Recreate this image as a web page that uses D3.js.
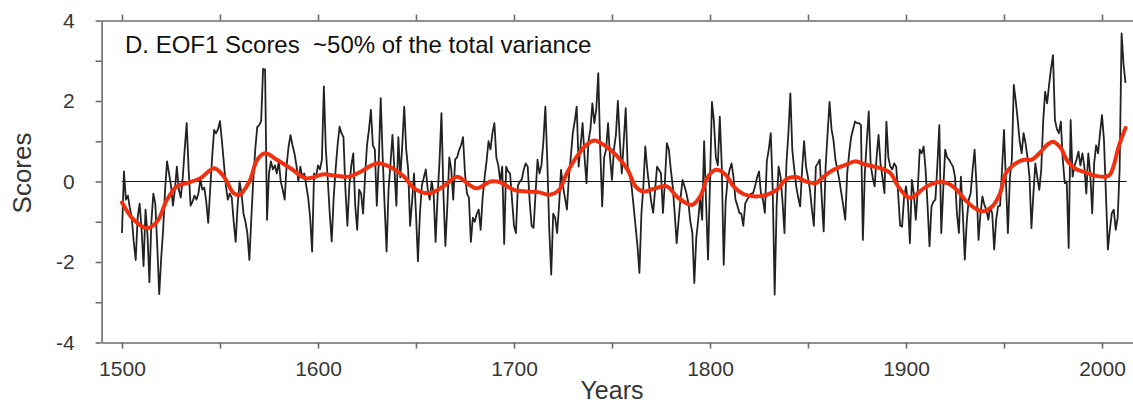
<!DOCTYPE html>
<html>
<head>
<meta charset="utf-8">
<script src="https://cdn.jsdelivr.net/npm/d3@7"></script>
<style>
  body { margin: 0; background: #fff; }
  text { font-family: "Liberation Sans", Arial, Helvetica, sans-serif; }
</style>
</head>
<body>
<div id="chart"></div>
<script>
/* annual EOF1 scores, 1500-2012 */
const years = d3.range(1500, 2013);
const scores = [
  -1.28, 0.25, -0.45, -0.35, -0.65, -0.9, -1.5, -1.95, -0.9, -0.55,
  -1.2, -2.1, -0.7, -1.3, -2.5, -1.0, -0.3, -0.55, -1.6, -2.8,
  -1.9, -1.2, -0.2, 0.5, 0.2, -0.1, -0.6, -0.2, 0.37, -0.2,
  -0.4, 0.1, 0.8, 1.45, 0.3, -0.6, -0.5, -0.35, -0.45, -0.3,
  0.05, -0.2, -0.15, -0.5, -1.03, -0.2, 0.6, 1.28, 1.2, 1.3,
  1.5, 1.0, 0.45, -0.1, -0.45, -0.3, -0.4, -1.0, -1.5, -0.6,
  0.0, -0.3, -0.8, -1.0, -1.3, -1.95, -0.9, 0.05, 0.8, 1.35,
  1.4, 1.5, 2.8, 2.78, -0.95, 0.2, 0.5, 0.3, 0.4, 0.2,
  0.5, 0.0, -0.2, -0.45, 0.4, 0.87, 1.15, 0.9, 0.7, 0.4,
  0.0, 0.37, 0.1, 0.2, -0.1, -0.4, -0.9, -1.74, 0.2, 0.1,
  0.4, 0.3, 0.54, 2.36, 0.8, 0.05, -0.8, -1.49, -0.4, 0.3,
  0.9, 1.36, 1.2, 1.1, -0.2, -1.1, -0.1, 0.4, 0.7, -0.6,
  -1.2, -0.2, -0.3, -0.8, 0.1, 0.9, 1.28, 1.78, 0.9, 0.8,
  -0.6, 0.5, 2.07, 0.6, -0.6, -1.74, -0.2, 0.45, 1.16, 0.3,
  -0.6, 1.1, 0.1, 0.9, 1.86, 0.8, 0.3, -1.1, -0.5, 0.2,
  -0.8, -1.98, -0.8, -0.1, 0.1, 0.3, -0.2, -0.45, 0.0, -0.3,
  -1.5, -0.4, 0.5, 1.7, -0.3, -1.6, -0.6, 0.6, 0.3, -0.45,
  0.55, 0.6, 0.78, 0.9, 1.1, 0.2, -0.3, -0.4, -1.5, -0.9,
  -1.0, -0.8, -0.7, -1.2, -0.4, 0.1, 0.5, 1.0, 0.8, 1.2,
  1.45, 0.6, 0.4, 0.0, 0.37, -1.55, 0.37, 0.25, 0.2, -0.45,
  -1.1, -1.28, -0.1, 0.0, 0.05, 0.3, 0.45, 0.37, -0.5, -1.1,
  -1.15, -0.3, 0.54, 0.2, 0.4, 1.0, 1.86, 0.5, -1.2, -2.31,
  -0.8, -0.9, -1.28, -0.6, 0.29, -0.12, -0.4, -0.7, 0.1, 0.62,
  1.2, 1.5, 1.86, 0.37, 0.9, 1.45, 0.6, -0.04, 1.0, 1.3,
  1.94, 1.45, 1.8, 2.69, 0.8, -0.62, 0.6, 0.8, 1.45, 0.6,
  0.04, 0.8, 1.16, 2.0, 1.0, 0.2, 1.0, 1.82, 0.37, 0.2,
  -0.12, -0.6, -1.1, -1.6, -2.27, -0.8, -0.12, 0.87, 0.3, -0.12,
  -0.5, -0.78, -0.2, 0.37, 0.29, 0.2, -0.78, 0.0, 0.95, 0.8,
  0.3, -0.12, -0.8, -1.53, -0.95, -0.4, 0.04, -0.12, -0.3, -0.54,
  -1.0, -1.28, -2.52, -1.4, -0.95, -0.4, -0.95, 1.0, -0.5, -1.94,
  0.0, 1.98, 1.5, 0.6, 0.4, 1.61, 0.4, -2.07, -0.5, 0.04,
  0.29, 0.45, 0.1, -0.45, -0.6, -0.78, -0.8, -1.1, -0.54, -0.45,
  -0.37, -0.3, -0.29, -0.12, 0.1, 0.25, -0.3, -0.45, -0.78, 0.5,
  0.8, 1.2, -0.2, -2.81, -0.6, 0.37, 0.12, -0.5, -1.28, 0.45,
  1.2, 2.19, 0.78, 0.3, -0.12, -0.4, -0.62, 0.3, 1.0, 0.37,
  0.1, -0.2, -0.7, -1.1, 0.37, 0.45, 0.54, -0.4, -1.24, 0.37,
  1.2, 1.98, 1.3, 1.03, 0.54, 0.3, 0.04, -0.29, -0.6, -0.95,
  0.2, 0.7, 1.1, 1.3, 1.49, 1.45, 1.45, 1.4, -1.45, 0.21,
  1.0, 1.74, 0.4, 0.1, -0.12, 0.6, 1.16, 0.45, 0.1, -0.29,
  1.49, 0.6, 0.37, 0.3, 0.45, 0.37, -0.3, -1.1, -1.12, -0.4,
  -0.12, -0.5, -1.53, 0.04, -0.3, -0.95, -0.21, 0.79, 0.7, 0.87,
  0.29, -0.6, -1.61, -0.62, -0.5, -0.45, 0.4, 1.4, -1.28, -0.2,
  0.79, 0.6, 0.54, 0.45, 0.37, 0.12, -0.8, -1.28, 0.12, -0.8,
  -1.94, -1.0, -0.45, -0.29, 0.3, 0.79, -0.12, -1.45, -0.8, -0.37,
  -0.58, -0.7, -0.95, -0.62, -0.8, -1.69, -0.95, -0.62, -0.6, 0.29,
  1.28, 0.0, -1.28, 0.1, 0.54, 2.4, 2.0, 1.53, 1.0, 0.7,
  1.2, 0.95, 0.6, 0.12, -1.16, -0.3, 0.45, 0.1, -0.21, 0.29,
  1.5, 2.23, 1.94, 2.4, 2.81, 3.14, 1.53, 1.3, 1.2, 1.49,
  0.54, -0.04, 0.0, -1.65, 1.53, 0.12, 0.4, 0.54, 0.74, 0.4,
  0.7, 0.37, -0.3, 0.7, 0.2, -0.79, 0.45, 0.9, 0.7, 1.2,
  1.65, 1.03, -0.29, -1.69, -1.2, -0.79, -0.7, -1.2, -0.9, 0.3,
  3.68, 2.9, 2.45
];

/* smoothed curve (red), read at irregular years */
const smoothYears = [
  1500, 1506, 1513, 1518, 1523, 1528, 1533, 1540, 1547, 1552, 1557, 1560, 1565, 1569, 1573,
  1579, 1586, 1594, 1603, 1608, 1616, 1622, 1630, 1638, 1644, 1649, 1657, 1664, 1671, 1676,
  1681, 1688, 1693, 1700, 1707, 1713, 1718, 1723, 1727, 1732, 1737, 1741, 1747, 1752, 1758,
  1762, 1766, 1772, 1778, 1783, 1788, 1791, 1795, 1799, 1803, 1808, 1812, 1817, 1823, 1829,
  1834, 1839, 1844, 1849, 1854, 1858, 1863, 1870, 1874, 1880, 1887, 1892, 1896, 1901, 1904,
  1909, 1916, 1921, 1926, 1931, 1936, 1939, 1944, 1948, 1951, 1956, 1960, 1964, 1968, 1972,
  1975, 1979, 1982, 1986, 1992, 1997, 2002, 2004, 2006, 2008, 2010, 2012
];
const smoothScores = [
  -0.52, -0.95, -1.16, -0.99, -0.45, -0.12, -0.04, 0.08, 0.33, 0.12, -0.29, -0.33, 0.0, 0.54, 0.7,
  0.54, 0.33, 0.08, 0.18, 0.15, 0.12, 0.25, 0.45, 0.33, 0.12, -0.17, -0.29, -0.12, 0.12, -0.04,
  -0.17, 0.0, -0.02, -0.21, -0.25, -0.27, -0.33, -0.21, 0.21, 0.62, 0.91, 1.02, 0.87, 0.66, 0.29,
  -0.12, -0.25, -0.17, -0.12, -0.37, -0.54, -0.58, -0.37, 0.12, 0.29, 0.17, -0.12, -0.31, -0.37, -0.33,
  -0.21, 0.06, 0.11, 0.0, -0.04, 0.12, 0.29, 0.43, 0.5, 0.41, 0.33, 0.21, -0.12, -0.39, -0.37,
  -0.17, -0.02, -0.04, -0.21, -0.5, -0.69, -0.74, -0.62, -0.29, 0.21, 0.45, 0.54, 0.54, 0.7, 0.91,
  0.99, 0.83, 0.54, 0.33, 0.22, 0.14, 0.12, 0.17, 0.4, 0.78, 1.08, 1.33
];

/* tick values */
const xTickValues = d3.range(1500, 2001, 50);
const yTickValues = d3.range(-4, 5, 1);

const width = 1133;
const height = 406;

const x = d3.scaleLinear()
    .domain([1489.6, 2020])
    .range([101.6, 1141.2]);

const y = d3.scaleLinear()
    .domain([-4, 4])
    .range([342.5, 20.5]);

let svg = d3.select("#chart").append("svg")
    .attr("width", width)
    .attr("height", height)
    .style("background", "#fff");

const frameColor = "#6b6b6b";
const labelColor = "#363636";

/* axes: ticks on all sides, pointing out */
let bottomAxis = svg.append("g")
    .attr("transform", "translate(0," + y(-4) + ")")
    .call(d3.axisBottom(x)
        .tickValues(xTickValues)
        .tickFormat(d => d % 100 === 0 ? String(d) : "")
        .tickSize(6)
        .tickPadding(13)
        .tickSizeOuter(0));

let topAxis = svg.append("g")
    .attr("transform", "translate(0," + y(4) + ")")
    .call(d3.axisTop(x)
        .tickValues(xTickValues)
        .tickFormat("")
        .tickSize(6)
        .tickSizeOuter(0));

let leftAxis = svg.append("g")
    .attr("transform", "translate(" + x(1489.6) + ",0)")
    .call(d3.axisLeft(y)
        .tickValues(yTickValues)
        .tickFormat(d => d % 2 === 0 ? String(d) : "")
        .tickSize(6)
        .tickPadding(21)
        .tickSizeOuter(0));

[bottomAxis, topAxis, leftAxis].forEach(function(g) {
    g.selectAll(".domain")
        .attr("stroke", frameColor)
        .attr("stroke-width", 1.6);
    g.selectAll(".tick line")
        .attr("stroke", frameColor)
        .attr("stroke-width", 1.6);
    g.selectAll(".tick text")
        .attr("fill", labelColor)
        .style("font-size", "21px")
        .style("font-family", "'Liberation Sans', Arial, sans-serif");
});

/* zero line over the data span */
svg.append("line")
    .attr("x1", x(years[0]))
    .attr("x2", x(years[years.length - 1]) + 1)
    .attr("y1", y(0))
    .attr("y2", y(0))
    .attr("stroke", "#111")
    .attr("stroke-width", 1.2);

/* annual scores */
const line = d3.line()
    .x((d, i) => x(years[i]))
    .y(d => y(d));

svg.append("path")
    .datum(scores)
    .attr("fill", "none")
    .attr("stroke", "#222")
    .attr("stroke-width", 1.8)
    .attr("stroke-linejoin", "round")
    .attr("d", line);

/* smoothed curve */
const smoothLine = d3.line()
    .x((d, i) => x(smoothYears[i]))
    .y(d => y(d))
    .curve(d3.curveCatmullRom.alpha(0.5));

svg.append("path")
    .datum(smoothScores)
    .attr("fill", "none")
    .attr("stroke", "#f0300f")
    .attr("stroke-width", 4)
    .attr("stroke-linecap", "round")
    .attr("stroke-linejoin", "round")
    .attr("d", smoothLine);

/* title */
svg.append("text")
    .attr("x", 125)
    .attr("y", 53)
    .attr("xml:space", "preserve")
    .style("white-space", "pre")
    .style("font-size", "24px")
    .attr("fill", "#111")
    .text("D. EOF1 Scores  ~50% of the total variance");

/* axis titles */
svg.append("text")
    .attr("x", 612)
    .attr("y", 399)
    .attr("text-anchor", "middle")
    .style("font-size", "25px")
    .attr("fill", labelColor)
    .text("Years");

svg.append("text")
    .attr("transform", "translate(31,173) rotate(-90)")
    .attr("text-anchor", "middle")
    .style("font-size", "26px")
    .attr("fill", labelColor)
    .text("Scores");
</script>
</body>
</html>
